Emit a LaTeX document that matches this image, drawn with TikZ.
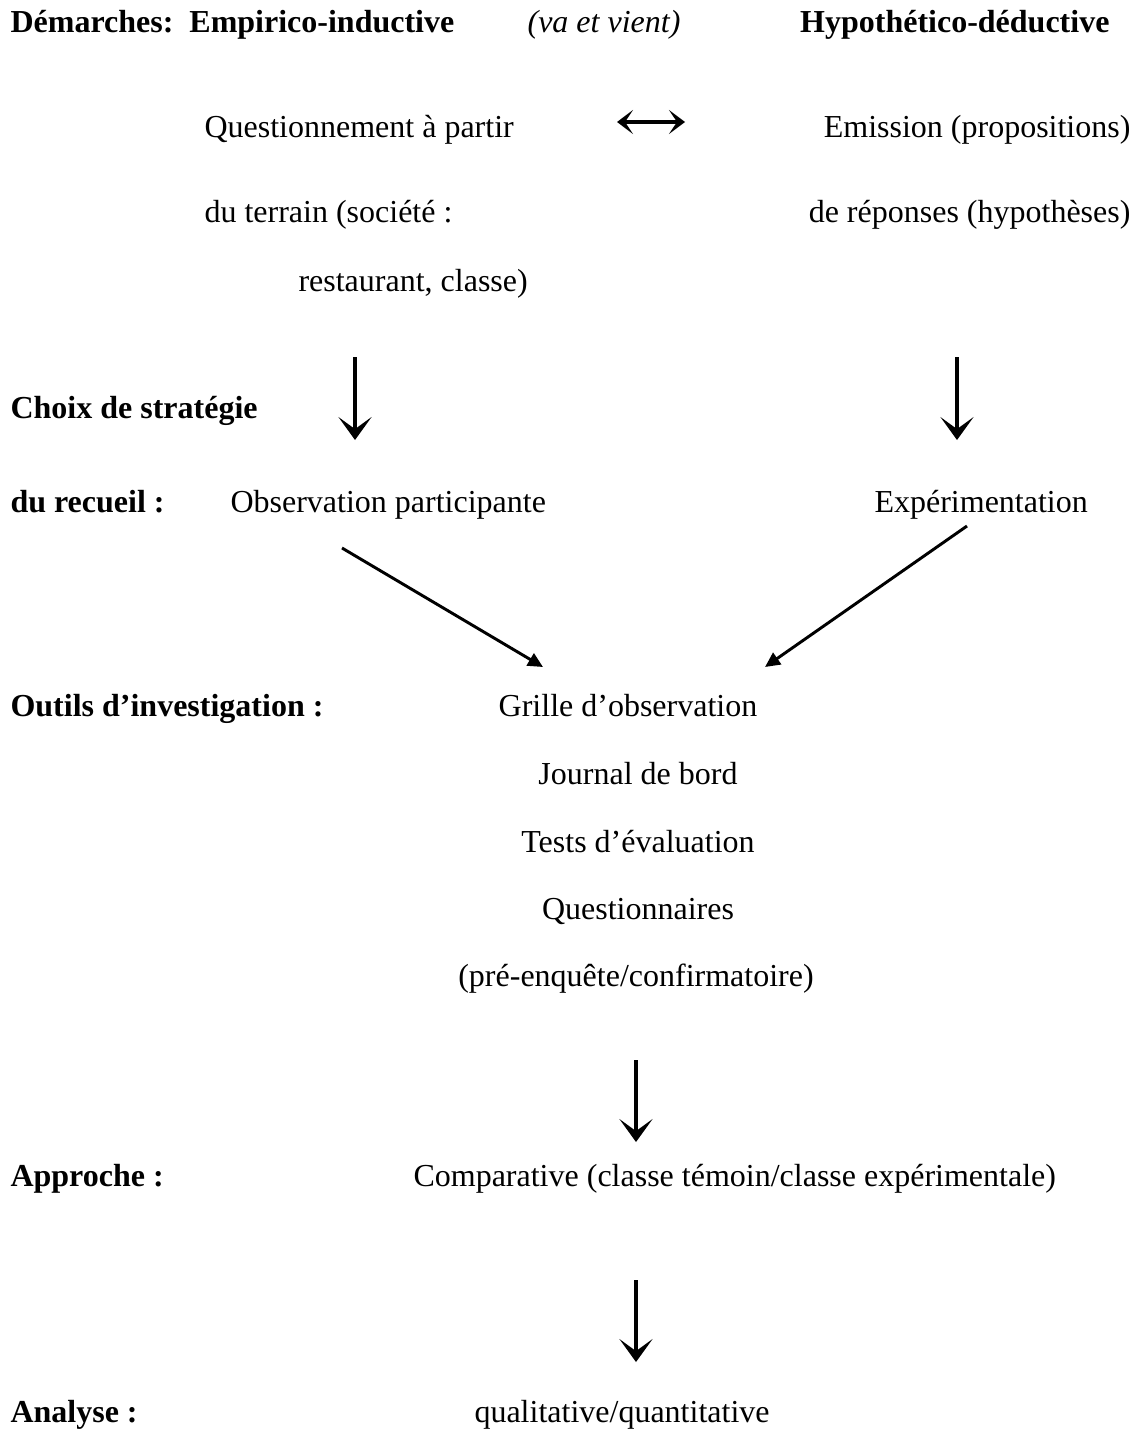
\documentclass[tikz,border=0pt]{standalone}
\usepackage{fontspec}
\setmainfont{Liberation Serif}
\usetikzlibrary{arrows.meta,positioning}

\begin{document}
\begin{tikzpicture}[x=0.375pt, y=-0.375pt,
  lbl/.style={font=\fontsize{12}{14}\selectfont\bfseries, inner sep=0pt, anchor=base west},
  txt/.style={font=\fontsize{12}{14}\selectfont, inner sep=0pt, anchor=base west},
  ctr/.style={txt, anchor=base},
  downarr/.style={line width=1.5pt, -{Stealth[length=8.6pt, width=12.4pt, inset=4.5pt]}},
  bothway/.style={line width=1.2pt, {Stealth[length=6pt, width=9pt, inset=3pt]}-{Stealth[length=6pt, width=9pt, inset=3pt]}},
  diagarr/.style={line width=1.1pt, -{Triangle[length=5.6pt, width=5.2pt]}}]
  \useasboundingbox (0,0) rectangle (1142,1445);

  %--- Demarches ---
  \node[lbl] (demarches) at (10,33) {Démarches:\ \ Empirico-inductive};
  \node[ctr, font=\fontsize{12}{14}\selectfont\itshape] (vaetvient) at (604,33) {(va et vient)};
  \node[lbl, anchor=base east] (hypo) at (1110,33) {Hypothético-déductive};

  % left column
  \node[txt] (quest1) at (204,138) {Questionnement à partir};
  \node[txt] (quest2) at (204,222) {du terrain (société :};
  \node[txt] (quest3) at (298,291) {restaurant, classe)};

  % right column
  \node[txt, anchor=base east] (emis1) at (1131,138) {Emission (propositions)};
  \node[txt, anchor=base east] (emis2) at (1131,222) {de réponses (hypothèses)};

  \coordinate (va) at (617,122);
  \coordinate (vient) at (685,122);
  \draw[bothway] (va) -- (vient);

  %--- Choix de strategie ---
  \coordinate (leftdown) at (355,357);
  \coordinate (lefttip) at (355,440);
  \coordinate (rightdown) at (957,357);
  \coordinate (righttip) at (957,440);
  \draw[downarr] (leftdown) -- (lefttip);
  \draw[downarr] (rightdown) -- (righttip);

  \node[lbl] (choix) at (10,418) {Choix de stratégie};
  \node[lbl] (recueil) at (10,512) {du recueil :};
  \node[txt] (obs) at (230,512) {Observation participante};
  \node[txt] (exp) at (874,512) {Expérimentation};

  \coordinate (obsfoot) at (342,548);
  \coordinate (expfoot) at (967,526);
  \coordinate (grilleleft) at (543,667);
  \coordinate (grilleright) at (765,667);
  \draw[diagarr] (obsfoot) -- (grilleleft);
  \draw[diagarr] (expfoot) -- (grilleright);

  %--- Outils ---
  \node[lbl] (outils) at (10,716) {Outils d’investigation :};
  \node[ctr] (grille) at (628,716) {Grille d’observation};
  \node[ctr] (journal) at (638,784) {Journal de bord};
  \node[ctr] (tests) at (638,852) {Tests d’évaluation};
  \node[ctr] (questionnaires) at (638,919) {Questionnaires};
  \node[ctr] (enquete) at (636,986) {(pré-enquête/confirmatoire)};

  \coordinate (outilsdown) at (636,1060);
  \coordinate (outilstip) at (636,1142);
  \draw[downarr] (outilsdown) -- (outilstip);

  %--- Approche ---
  \node[lbl] (approche) at (10,1186) {Approche :};
  \node[txt] (compar) at (413,1186) {Comparative (classe témoin/classe expérimentale)};

  \coordinate (approchedown) at (636,1280);
  \coordinate (approchetip) at (636,1362);
  \draw[downarr] (approchedown) -- (approchetip);

  %--- Analyse ---
  \node[lbl] (analyse) at (10,1422) {Analyse :};
  \node[txt] (qual) at (474,1422) {qualitative/quantitative};
\end{tikzpicture}
\end{document}
